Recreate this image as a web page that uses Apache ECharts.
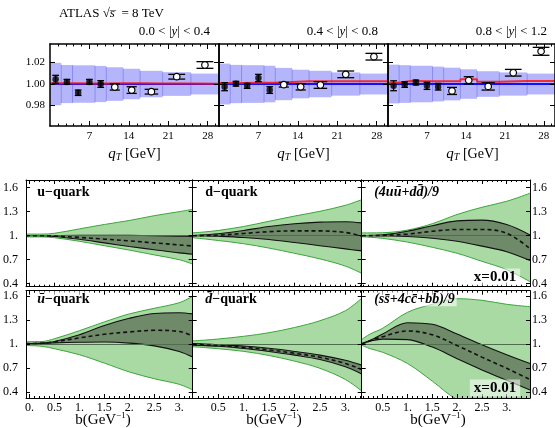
<!DOCTYPE html>
<html><head><meta charset="utf-8">
<script src="https://cdn.jsdelivr.net/npm/echarts@6/dist/echarts.min.js"></script>
<style>html,body{margin:0;padding:0;background:#fff}#c{width:555px;height:428px}</style>
</head><body><div id="c"></div>
<script>
// ---------------- DATA ----------------
// Top row: ATLAS 8 TeV ratio panels
const qtEdges   = [0,2,4,6,8,10,13,16,20,25,30];
const bandEdges = [0,2,4,8,10,13,16,20,25,30];
const rapTitles = ['0.0 < |{i|y}| < 0.4','0.4 < |{i|y}| < 0.8','0.8 < |{i|y}| < 1.2'];
const qtTickLabels = [7,14,21,28];
const ratioTicks = [0.98,1.00,1.02];
const ratio1 = [1.0044,1.0020,0.9919,1.0020,1.0000,0.9972,0.9944,0.9929,1.0068,1.0177];
const err1   = [0.0037,0.0023,0.0025,0.0023,0.0031,0.0028,0.0031,0.0022,0.0022,0.0031];
const ratio2 = [0.9975,1.0003,0.9983,1.0056,0.9944,0.9994,0.9974,0.9991,1.0090,1.0254];
const err2   = [0.0037,0.0022,0.0023,0.0034,0.0031,0.0022,0.0029,0.0031,0.0031,0.0031];
const ratio3 = [0.9984,0.9995,1.0014,0.9983,0.9975,0.9936,1.0034,0.9978,1.0105,1.0304];
const err3   = [0.0046,0.0026,0.0023,0.0033,0.0031,0.0033,0.0034,0.0034,0.0031,0.0037];
const band1  = [0.0197,0.0177,0.0174,0.0168,0.0156,0.0142,0.0123,0.0110,0.0097];
const band2  = [0.0190,0.0178,0.0175,0.0170,0.0150,0.0133,0.0123,0.0108,0.0097];
const band3  = [0.0180,0.0175,0.0170,0.0162,0.0152,0.0137,0.0119,0.0108,0.0097];
const red1   = [1.0008,1.0008,1.0006,1.0006,1.0008,1.0008,1.0006,1.0005,1.0002];
const red2   = [1.0010,1.0010,1.0012,1.0012,1.0020,1.0025,1.0025,1.0025,1.0025];
const red3   = [1.0012,1.0028,1.0026,1.0025,1.0025,1.0045,1.0022,1.0028,1.0028];
const blueRef = [1,1,1,1,1,1,1,1,1];
const filledPoints = 5; // first bins drawn as filled markers

// Bottom grid: PDF ratio bands vs b
const bCol1 = [-0.07,0.25,0.5,1,1.5,2,2.5,3,3.27];
const bCol2 = [0,0.25,0.5,1,1.5,2,2.5,3,3.32];
const bCol3 = [0.077,0.25,0.5,1,1.5,2,2.5,3,3.47];
const bTickLabels1 = [0,0.5,1,1.5,2,2.5,3];
const bTickLabels23 = [0.5,1,1.5,2,2.5,3];
const yTickLabels = [0.4,0.7,1,1.3,1.6];

const uLightHi = [1.02,1.02,1.03,1.085,1.14,1.19,1.25,1.30,1.33];
const uLightLo = [0.985,0.985,0.975,0.93,0.875,0.82,0.76,0.70,0.645];
const uDarkHi  = [1.0,1.0,1.002,1.005,1.005,1.004,1.0,0.995,0.99];
const uDarkLo  = [1.0,0.997,0.99,0.955,0.91,0.865,0.825,0.785,0.768];
const uMid     = [1.0,0.999,0.996,0.978,0.957,0.935,0.91,0.885,0.87];

const dLightHi = [1.035,1.048,1.065,1.115,1.18,1.245,1.305,1.38,1.45];
const dLightLo = [0.975,0.958,0.94,0.90,0.845,0.78,0.71,0.62,0.53];
const dDarkHi  = [1.0,1.012,1.025,1.065,1.115,1.15,1.17,1.175,1.16];
const dDarkLo  = [1.0,0.998,0.993,0.977,0.952,0.915,0.875,0.835,0.81];
const dMid     = [1.0,1.002,1.006,1.028,1.05,1.06,1.06,1.04,0.995];

const udLightHi = [1.035,1.035,1.037,1.07,1.15,1.265,1.355,1.43,1.53];
const udLightLo = [0.987,0.98,0.967,0.92,0.855,0.78,0.68,0.575,0.425];
const udDarkHi  = [1.0,1.003,1.01,1.055,1.125,1.185,1.195,1.14,1.01];
const udDarkLo  = [1.0,1.0,0.998,0.99,0.968,0.93,0.87,0.80,0.69];
const udMid     = [1.0,1.001,1.003,1.02,1.055,1.078,1.078,1.03,0.84];

const ubLightHi = [1.033,1.035,1.07,1.17,1.28,1.38,1.45,1.52,1.6];
const ubLightLo = [0.985,0.975,0.945,0.87,0.765,0.655,0.57,0.50,0.43];
const ubDarkHi  = [1.01,1.015,1.035,1.12,1.235,1.325,1.385,1.395,1.38];
const ubDarkLo  = [1.01,1.012,1.018,1.025,1.028,1.015,0.98,0.91,0.84];
const ubMid     = [1.01,1.013,1.03,1.08,1.125,1.155,1.175,1.16,1.104];

const dbLightHi = [1.042,1.053,1.066,1.10,1.145,1.21,1.295,1.42,1.575];
const dbLightLo = [0.97,0.958,0.945,0.912,0.86,0.79,0.70,0.56,0.417];
const dbDarkHi  = [1.01,1.003,0.995,0.978,0.95,0.91,0.865,0.80,0.74];
const dbDarkLo  = [0.99,0.983,0.975,0.948,0.91,0.865,0.81,0.72,0.63];
const dbMid     = [1.0,0.993,0.985,0.963,0.93,0.888,0.838,0.76,0.685];

const scbLightHi = [1.06,1.13,1.2,1.40,1.50,1.57,1.55,1.50,1.47];
const scbLightLo = [0.99,0.945,0.9,0.76,0.54,0.31,0.22,0.18,0.15];
const scbDarkHi  = [1.01,1.05,1.13,1.27,1.25,1.13,0.995,0.87,0.76];
const scbDarkLo  = [1.004,1.04,1.065,1.058,0.965,0.82,0.68,0.55,0.43];
const scbMid     = [1.005,1.045,1.095,1.167,1.12,0.985,0.84,0.70,0.56];

// ---------------- BUILD ----------------
const SERIF = 'Liberation Serif';
const grids=[], xAxes=[], yAxes=[], series=[], G=[];

function axis(gi, pos, min, max, ticks, len, lineW, labelVals, fmt, lab){
  return {
    type:'value', gridIndex:gi, position:pos, min, max, z:10,
    axisLine:{show:lineW>0, onZero:false, lineStyle:{color:'#000', width:lineW||1}},
    axisTick:{show:true, inside:true, length:len, customValues:ticks, lineStyle:{color:'#000', width:1}},
    axisLabel: labelVals ? Object.assign({show:true, customValues:labelVals, formatter:fmt, fontFamily:SERIF, color:'#000', fontSize:12}, lab||{}) : {show:false},
    splitLine:{show:false}, minorTick:{show:false}
  };
}
function minors(min, max, step, skipEvery){
  const out=[]; let k=Math.ceil(min/step-1e-9);
  for(; k*step<=max+1e-9; k++){ if(k%skipEvery!==0) out.push(+(k*step).toFixed(4)); }
  return out;
}
function T(x,y,text,o){ G.push({type:'text', x, y, z:100, style:Object.assign({text, fontFamily:SERIF, fontSize:13, fill:'#000', align:'left', verticalAlign:'middle'}, o||{})}); }

// ---- top panels ----
const topLeft=[50,219,388];
const tops=[[ratio1,err1,band1,red1],[ratio2,err2,band2,red2],[ratio3,err3,band3,red3]];
const qtMinor = minors(0,30,1.4,5);
tops.forEach(([ratio,err,band,red],p)=>{
  const gi=grids.length;
  grids.push({left:topLeft[p], top:44, width:169, height:82});
  const xi=xAxes.length, yi=yAxes.length;
  xAxes.push(axis(gi,'bottom',0,30,qtTickLabels,5,1.5,qtTickLabels,v=>String(v),{fontSize:11,margin:5}));
  xAxes.push(axis(gi,'bottom',0,30,qtMinor,2.5,0));
  xAxes.push(axis(gi,'top',0,30,qtTickLabels,5,1.5));
  xAxes.push(axis(gi,'top',0,30,qtMinor,2.5,0));
  yAxes.push(axis(gi,'left',0.961,1.0372,ratioTicks,5,1.5,p===0?ratioTicks:null,v=>v.toFixed(2),{fontSize:11,margin:5}));
  yAxes.push(axis(gi,'right',0.961,1.0372,ratioTicks,5,1.5));
  // theory band
  series.push({type:'custom', xAxisIndex:xi, yAxisIndex:yi, z:1, clip:true, silent:true,
    data: band.map((h,i)=>[bandEdges[i],bandEdges[i+1],h]),
    renderItem(params,api){
      const a=api.coord([api.value(0),1+api.value(2)]), b=api.coord([api.value(1),1-api.value(2)]);
      return {type:'rect', shape:{x:a[0],y:a[1],width:b[0]-a[0],height:b[1]-a[1]}, style:{fill:'#b5b5fb'}};
    }});
  series.push({type:'custom', xAxisIndex:xi, yAxisIndex:yi, z:1, clip:true, silent:true,
    data: band.slice(1).map((h,i)=>[bandEdges[i+1],Math.min(h,band[i])]),
    renderItem(params,api){
      const a=api.coord([api.value(0),1+api.value(1)]), b=api.coord([api.value(0),1-api.value(1)]);
      return {type:'line', shape:{x1:a[0],y1:a[1],x2:b[0],y2:b[1]}, style:{stroke:'#8a8af0',lineWidth:1}};
    }});
  series.push({type:'line', xAxisIndex:xi, yAxisIndex:yi, z:2, step:'end', symbol:'none', silent:true,
    data: bandEdges.map((e,i)=>[e, blueRef[Math.min(i,blueRef.length-1)]]), lineStyle:{color:'#1010ff',width:2}});
  series.push({type:'line', xAxisIndex:xi, yAxisIndex:yi, z:3, step:'end', symbol:'none', silent:true,
    data: bandEdges.map((e,i)=>[e, red[Math.min(i,red.length-1)]]), lineStyle:{color:'#ff1010',width:2,opacity:0.85}});
  // error bars
  series.push({type:'custom', xAxisIndex:xi, yAxisIndex:yi, z:5, clip:true, silent:true,
    data: ratio.map((v,i)=>[(qtEdges[i]+qtEdges[i+1])/2, v, err[i], (qtEdges[i+1]-qtEdges[i])*0.3]),
    renderItem(params,api){
      const x=api.value(0), y=api.value(1), e=api.value(2), c=api.value(3);
      const t=api.coord([x,y+e]), b=api.coord([x,y-e]), l=api.coord([x-c,y]), r=api.coord([x+c,y]);
      const st={stroke:'#000', lineWidth:1.3};
      return {type:'group', children:[
        {type:'line', shape:{x1:t[0],y1:t[1],x2:b[0],y2:b[1]}, style:st},
        {type:'line', shape:{x1:l[0],y1:t[1],x2:r[0],y2:t[1]}, style:st},
        {type:'line', shape:{x1:l[0],y1:b[1],x2:r[0],y2:b[1]}, style:st}]};
    }});
  const pts = ratio.map((v,i)=>[(qtEdges[i]+qtEdges[i+1])/2, v]);
  series.push({type:'scatter', xAxisIndex:xi, yAxisIndex:yi, z:6, silent:true, symbolSize:6.5,
    data: pts.slice(0,filledPoints), itemStyle:{color:'#000'}});
  series.push({type:'scatter', xAxisIndex:xi, yAxisIndex:yi, z:6, silent:true, symbolSize:6.5,
    data: pts.slice(filledPoints), itemStyle:{color:'#fff', borderColor:'#000', borderWidth:1.2, opacity:1}});
  T([210,378,547][p], 31.5, rapTitles[p], {align:'right', fontSize:13, rich:{i:{fontStyle:'italic',fontFamily:SERIF,fontSize:13}}});
  T(topLeft[p]+84.5, 154, '{q|q}{t|T} [GeV]', {align:'center', fontSize:14, rich:{q:{fontStyle:'italic',fontFamily:SERIF,fontSize:15}, t:{fontStyle:'italic',fontFamily:SERIF,fontSize:10,padding:[6,0,0,0]}}});
});
T(59,14,'ATLAS √{i|s\u0305}  = 8 TeV',{fontSize:13, rich:{i:{fontStyle:'italic',fontFamily:SERIF,fontSize:13}}});

// ---- bottom panels ----
const colLeft=[25.7,192.7,361.7], colW=[167,169,168.3];
const rowTop=[180,290.7], rowH=[106.7,107.3];
const colB=[bCol1,bCol2,bCol3];
const colX=[[-0.07,3.27],[0,3.32],[0.077,3.47]];
const rowY=[[0.3625,1.696],[0.329,1.67]];
const colLabels=[bTickLabels1,bTickLabels23,bTickLabels23];
const panels=[
  {r:0,c:0,hi:uLightHi,lo:uLightLo,dh:uDarkHi,dl:uDarkLo,m:uMid,label:'u−quark'},
  {r:0,c:1,hi:dLightHi,lo:dLightLo,dh:dDarkHi,dl:dDarkLo,m:dMid,label:'d−quark'},
  {r:0,c:2,hi:udLightHi,lo:udLightLo,dh:udDarkHi,dl:udDarkLo,m:udMid,label:'{bi|(4uū+dd\u0304)/9}'},
  {r:1,c:0,hi:ubLightHi,lo:ubLightLo,dh:ubDarkHi,dl:ubDarkLo,m:ubMid,label:'{bi|ū}−quark'},
  {r:1,c:1,hi:dbLightHi,lo:dbLightLo,dh:dbDarkHi,dl:dbDarkLo,m:dbMid,label:'{bi|d\u0304}−quark'},
  {r:1,c:2,hi:scbLightHi,lo:scbLightLo,dh:scbDarkHi,dl:scbDarkLo,m:scbMid,label:'{bi|(ss\u0304+4cc\u0304+bb\u0304)/9}'}
];
const fmtB = v => Number.isInteger(v) ? v+'.' : String(v);
const LG='#a9daa3', LGLINE='#3aa63a', DK='#6e8a69', WHITE='#ffffff';
panels.forEach(P=>{
  const gi=grids.length;
  grids.push({left:colLeft[P.c], top:rowTop[P.r], width:colW[P.c], height:rowH[P.r]});
  const [x0,x1]=colX[P.c], [y0,y1]=rowY[P.r];
  const xi=xAxes.length, yi=yAxes.length;
  const bMaj=bTickLabels1.filter(v=>v>=x0&&v<=x1), bMin=minors(x0,x1,0.1,5);
  xAxes.push(axis(gi,'bottom',x0,x1,bMaj,4,1,P.r===1?colLabels[P.c]:null,fmtB,{fontSize:12,margin:4}));
  xAxes.push(axis(gi,'bottom',x0,x1,bMin,2,0));
  xAxes.push(axis(gi,'top',x0,x1,bMaj,4,1));
  xAxes.push(axis(gi,'top',x0,x1,bMin,2,0));
  yAxes.push(axis(gi,'left',y0,y1,yTickLabels,4,1,P.c===0?yTickLabels:null,fmtB,{fontSize:12,margin:8}));
  yAxes.push(axis(gi,'right',y0,y1,yTickLabels,4,1,P.c===2?yTickLabels:null,fmtB,{fontSize:12,margin:2}));
  const B=colB[P.c];
  const mk=(vals)=>B.map((b,i)=>[b,vals[i]]);
  const area=(vals,fill,line,z,w)=>series.push({type:'line', xAxisIndex:xi, yAxisIndex:yi, z, smooth:0.35, symbol:'none', silent:true,
    data:mk(vals), areaStyle:{color:fill, opacity:1, origin:'start'}, lineStyle:{color:line, width:w}});
  area(P.hi, LG, LGLINE, 2, 1);
  area(P.dh, DK, '#111', 3, 1.1);
  area(P.dl, LG, '#111', 4, 1.1);
  area(P.lo, WHITE, LGLINE, 5, 1);
  series.push({type:'line', xAxisIndex:xi, yAxisIndex:yi, z:6, smooth:0.35, symbol:'none', silent:true,
    data:mk(P.m), lineStyle:{color:'#111', width:1.6, type:[4,3]},
    markLine:{silent:true, symbol:'none', label:{show:false}, lineStyle:{color:'#4f6e4e', width:1, type:'solid'}, data:[{yAxis:1}]}});
  T(colLeft[P.c]+ (P.c===0?9.5:10.5), rowTop[P.r]+ (P.r===0?11.5:8), P.label,
    {fontSize:14, fontWeight:'bold', backgroundColor:'rgba(255,255,255,0.6)', padding:[1,2,0,2],
     rich:{bi:{fontStyle:'italic',fontWeight:'bold',fontFamily:SERIF,fontSize:14}}});
  if(P.c===2) T(495, P.r===0?277:388, 'x=0.01', {align:'center', fontSize:15, fontWeight:'bold', backgroundColor:'rgba(255,255,255,0.55)', padding:[1,4,1,4]});
  if(P.r===1) T([103,274,438][P.c], 420, 'b(GeV{s|−1})', {align:'center', fontSize:15, rich:{s:{fontFamily:SERIF,fontSize:9,padding:[0,0,8,0]}}});
});

const chart = echarts.init(document.getElementById('c'), null, {renderer:'canvas', width:555, height:428});
chart.setOption({animation:false, backgroundColor:'#fff', grid:grids, xAxis:xAxes, yAxis:yAxes, series, graphic:{elements:G}});
</script></body></html>
